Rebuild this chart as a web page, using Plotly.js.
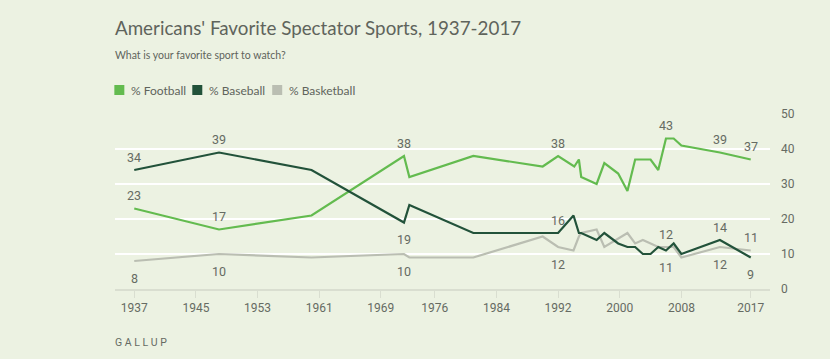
<!DOCTYPE html>
<html>
<head>
<meta charset="utf-8">
<script src="https://cdn.plot.ly/plotly-3.0.1.min.js"></script>
<style>
  html, body { margin: 0; padding: 0; background: #ecf2e2; }
  #chart { width: 830px; height: 359px; }
</style>
</head>
<body>
<div id="chart"></div>
<script>
// ---- Data ----
const footballYears = [1937, 1948, 1960, 1972, 1972.7, 1981, 1990, 1992, 1994.1, 1994.7, 1995, 1997, 1998, 1999.8, 2001, 2002, 2004, 2005, 2006, 2007, 2008, 2013, 2017];
const footballValues = [23, 17, 21, 38, 32, 38, 35, 38, 35, 37, 32, 30, 36, 33, 28, 37, 37, 34, 43, 43, 41, 39, 37];

const baseballYears = [1937, 1948, 1960, 1972, 1972.7, 1981, 1990, 1992, 1994, 1994.7, 1995, 1997, 1998, 1999.8, 2001, 2002, 2003, 2004, 2005, 2006, 2007, 2008, 2013, 2017];
const baseballValues = [34, 39, 34, 19, 24, 16, 16, 16, 21, 16, 16, 14, 16, 13, 12, 12, 10, 10, 12, 11, 13, 10, 14, 9];

const basketballYears = [1937, 1948, 1960, 1972, 1972.7, 1981, 1990, 1992, 1994, 1994.7, 1995, 1997, 1998, 2001, 2002, 2003, 2005, 2006, 2007, 2008, 2013, 2017];
const basketballValues = [8, 10, 9, 10, 9, 9, 15, 12, 11, 15, 16, 17, 12, 16, 13, 14, 12, 12, 12, 9, 12, 11];

const tickYears = [1937, 1945, 1953, 1961, 1969, 1976, 1984, 1992, 2000, 2008, 2017];
const tickLabels = ['1937', '1945', '1953', '1961', '1969', '1976', '1984', '1992', '2000', '2008', '2017'];

const seriesNames = ['% Football', '% Baseball', '% Basketball'];

// Labelled points: year -> above/below
const footballLabels = [[1937, 'up'], [1948, 'up'], [1972, 'up'], [1992, 'up'], [2006, 'up'], [2013, 'up'], [2017, 'up']];
const baseballLabels = [[1937, 'up'], [1948, 'up'], [1972, 'down'], [1992, 'up'], [2006, 'down'], [2013, 'up'], [2017, 'down']];
const basketballLabels = [[1937, 'down'], [1948, 'down'], [1972, 'down'], [1992, 'down'], [2006, 'up'], [2013, 'down'], [2017, 'up']];

// ---- Styles ----
const colors = ['#63bb4f', '#22523a', '#babeb2'];
const bg = '#ecf2e2';
const textColor = '#666b63';
const font = 'Roboto, "Noto Sans", sans-serif';
const headFont = 'Lato, "Open Sans", sans-serif';

const series = [
  {x: footballYears, y: footballValues, labels: footballLabels},
  {x: baseballYears, y: baseballValues, labels: baseballLabels},
  {x: basketballYears, y: basketballValues, labels: basketballLabels}
];

// draw basketball first so greens sit on top
const order = [2, 0, 1];
const traces = order.map(i => ({
  type: 'scatter',
  mode: 'lines',
  x: series[i].x,
  y: series[i].y,
  name: seriesNames[i],
  line: {color: colors[i], width: 2.2},
  hoverinfo: 'x+y',
  showlegend: false
}));

const annotations = [];
series.forEach((s) => {
  s.labels.forEach(([yr, pos]) => {
    const idx = s.x.indexOf(yr);
    if (idx < 0) return;
    annotations.push({
      x: yr, y: s.y[idx], xref: 'x', yref: 'y',
      text: String(s.y[idx]),
      showarrow: false,
      yshift: pos === 'up' ? 13 : -17,
      font: {family: font, size: 12.5, color: textColor}
    });
  });
});

// Title, subtitle, source
annotations.push({
  xref: 'paper', yref: 'paper', x: -0.003, y: 1.497, xanchor: 'left', yanchor: 'middle',
  text: "Americans' Favorite Spectator Sports, 1937-2017", showarrow: false,
  font: {family: headFont, size: 18.8, color: '#5f645c'}
});
annotations.push({
  xref: 'paper', yref: 'paper', x: -0.003, y: 1.337, xanchor: 'left', yanchor: 'middle',
  text: 'What is your favorite sport to watch?', showarrow: false,
  font: {family: headFont, size: 10.5, color: '#5f645c'}
});
annotations.push({
  xref: 'paper', yref: 'paper', x: -0.003, y: -0.303, xanchor: 'left', yanchor: 'middle',
  text: 'G A L L U P', showarrow: false,
  font: {family: font, size: 10.5, color: '#666b63'}
});

// Custom legend (square swatches + text)
const legendX = [0, 0.119, 0.241]; // paper positions of swatches
const shapes = [];
const swatchW = 10 / 655, swatchH = 10 / 175;
legendX.forEach((lx, i) => {
  shapes.push({
    type: 'rect', xref: 'paper', yref: 'paper',
    x0: lx - 0.001, x1: lx - 0.001 + swatchW,
    y0: 1.137 - swatchH / 2, y1: 1.137 + swatchH / 2,
    fillcolor: colors[i], line: {width: 0}
  });
  annotations.push({
    xref: 'paper', yref: 'paper', x: lx + 0.021, y: 1.137, xanchor: 'left', yanchor: 'middle',
    text: seriesNames[i], showarrow: false,
    font: {family: headFont, size: 12, color: '#5f645c'}
  });
});

const layout = {
  width: 830, height: 359,
  margin: {l: 115, r: 60, t: 114, b: 70},
  paper_bgcolor: bg, plot_bgcolor: bg,
  showlegend: false,
  xaxis: {
    range: [1934.5, 2019.5],
    tickvals: tickYears, ticktext: tickLabels,
    showgrid: false, zeroline: false,
    showline: true, linecolor: '#d9ded0', linewidth: 2,
    ticks: 'outside', ticklen: 7, tickcolor: '#d9ded0', tickwidth: 1,
    tickfont: {family: font, size: 12, color: textColor},
    fixedrange: true
  },
  yaxis: {
    range: [0, 50], dtick: 10, tick0: 0,
    side: 'right',
    showgrid: true, gridcolor: '#ffffff', gridwidth: 2,
    zeroline: false, showline: false, ticks: '',
    ticklabelstandoff: 10,
    tickfont: {family: font, size: 12, color: textColor},
    fixedrange: true
  },
  annotations: annotations,
  shapes: shapes,
  font: {family: font}
};

Plotly.newPlot('chart', traces, layout, {displayModeBar: false, staticPlot: true});
</script>
</body>
</html>
